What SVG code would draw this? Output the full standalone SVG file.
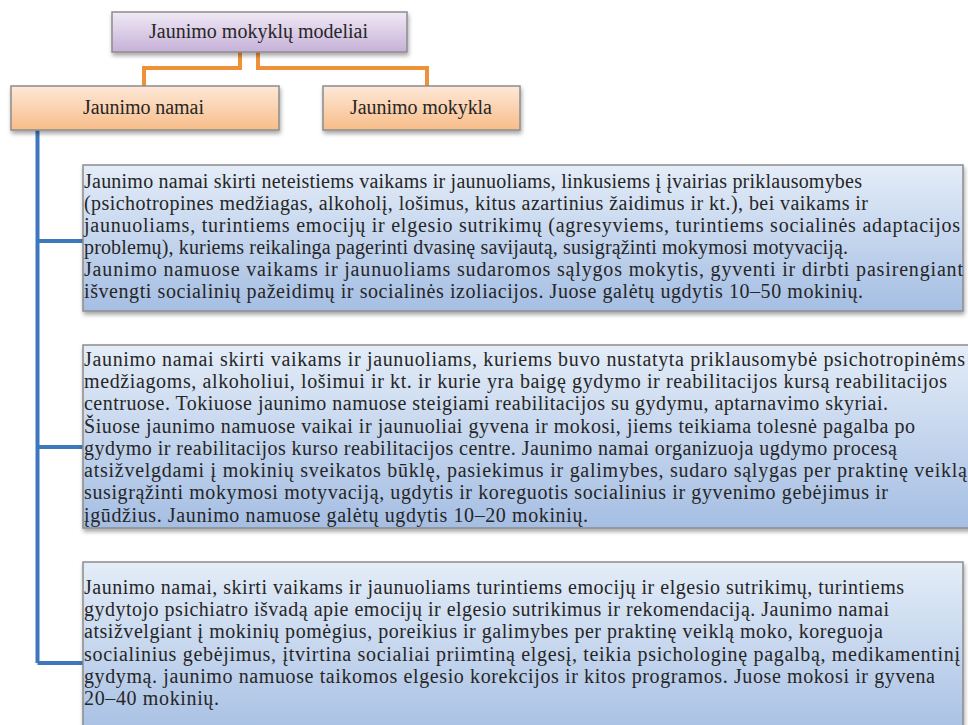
<svg xmlns="http://www.w3.org/2000/svg" width="968" height="725" viewBox="0 0 968 725">
<defs>
<linearGradient id="gPurple" x1="0" y1="0" x2="0" y2="1">
<stop offset="0" stop-color="#f0e9f5"/>
<stop offset="1" stop-color="#c6b1d8"/>
</linearGradient>
<linearGradient id="gOrange" x1="0" y1="0" x2="0" y2="1">
<stop offset="0" stop-color="#fde8d8"/>
<stop offset="1" stop-color="#f8bd89"/>
</linearGradient>
<linearGradient id="gBlue" x1="0" y1="0" x2="0" y2="1">
<stop offset="0" stop-color="#e4edf8"/>
<stop offset="1" stop-color="#a5bee3"/>
</linearGradient>
<filter id="sh" x="-5%" y="-10%" width="110%" height="130%">
<feDropShadow dx="1" dy="3" stdDeviation="2" flood-color="#000" flood-opacity="0.35"/>
</filter>
</defs>
<style>
.box{stroke:#8c8c8c;stroke-width:1.5;filter:url(#sh)}
.t{font-family:'Liberation Serif','Times New Roman',serif;font-size:20px;fill:#262626}
.c{text-anchor:middle}
.or{fill:none;stroke:#f0913a;stroke-width:4}
.bl{fill:none;stroke:#3d78bf;stroke-width:4}
</style>
<g id="connectors">
<path class="or" d="M240 52 V68 H144 V86"/>
<path class="or" d="M258 52 V68 H427 V86"/>
<path class="bl" d="M37.5 130 V663"/>
<path class="bl" d="M37.5 241 H83"/>
<path class="bl" d="M37.5 447 H83"/>
<path class="bl" d="M37.5 663 H83"/>
</g>
<g id="root">
<rect class="box" x="112" y="12" width="295" height="40" fill="url(#gPurple)"/>
<text class="t c" x="258.5" y="38" textLength="219" lengthAdjust="spacing">Jaunimo mokyklų modeliai</text>
</g>
<g id="namai">
<rect class="box" x="11" y="86" width="268" height="44" fill="url(#gOrange)"/>
<text class="t c" x="143.5" y="114" textLength="121" lengthAdjust="spacing">Jaunimo namai</text>
</g>
<g id="mokykla">
<rect class="box" x="323" y="86" width="197" height="44" fill="url(#gOrange)"/>
<text class="t c" x="421" y="114" textLength="142" lengthAdjust="spacing">Jaunimo mokykla</text>
</g>
<g id="desc1">
<rect class="box" x="83" y="165" width="880" height="146" fill="url(#gBlue)"/>
<text class="t" x="84" y="188.3" textLength="778" lengthAdjust="spacing">Jaunimo namai skirti neteistiems vaikams ir jaunuoliams, linkusiems į įvairias priklausomybes</text>
<text class="t" x="84" y="210.2" textLength="784" lengthAdjust="spacing">(psichotropines medžiagas, alkoholį, lošimus, kitus azartinius žaidimus ir kt.), bei vaikams ir</text>
<text class="t" x="84" y="232.1" textLength="876" lengthAdjust="spacing">jaunuoliams, turintiems emocijų ir elgesio sutrikimų (agresyviems, turintiems socialinės adaptacijos</text>
<text class="t" x="84" y="254" textLength="764" lengthAdjust="spacing">problemų), kuriems reikalinga pagerinti dvasinę savijautą, susigrąžinti mokymosi motyvaciją.</text>
<text class="t" x="84" y="275.9" textLength="879" lengthAdjust="spacing">Jaunimo namuose vaikams ir jaunuoliams sudaromos sąlygos mokytis, gyventi ir dirbti pasirengiant</text>
<text class="t" x="84" y="297.8" textLength="779" lengthAdjust="spacing">išvengti socialinių pažeidimų ir socialinės izoliacijos. Juose galėtų ugdytis 10–50 mokinių.</text>
</g>
<g id="desc2">
<rect class="box" x="83" y="345" width="890" height="183" fill="url(#gBlue)"/>
<text class="t" x="84" y="366" textLength="881" lengthAdjust="spacing">Jaunimo namai skirti vaikams ir jaunuoliams, kuriems buvo nustatyta priklausomybė psichotropinėms</text>
<text class="t" x="84" y="388.2" textLength="863" lengthAdjust="spacing">medžiagoms, alkoholiui, lošimui ir kt. ir kurie yra baigę gydymo ir reabilitacijos kursą reabilitacijos</text>
<text class="t" x="84" y="410.4" textLength="804" lengthAdjust="spacing">centruose. Tokiuose jaunimo namuose steigiami reabilitacijos su gydymu, aptarnavimo skyriai.</text>
<text class="t" x="84" y="432.6" textLength="831" lengthAdjust="spacing">Šiuose jaunimo namuose vaikai ir jaunuoliai gyvena ir mokosi, jiems teikiama tolesnė pagalba po</text>
<text class="t" x="84" y="454.8" textLength="813" lengthAdjust="spacing">gydymo ir reabilitacijos kurso reabilitacijos centre. Jaunimo namai organizuoja ugdymo procesą</text>
<text class="t" x="84" y="477" textLength="883" lengthAdjust="spacing">atsižvelgdami į mokinių sveikatos būklę, pasiekimus ir galimybes, sudaro sąlygas per praktinę veiklą</text>
<text class="t" x="84" y="499.2" textLength="804" lengthAdjust="spacing">susigrąžinti mokymosi motyvaciją, ugdytis ir koreguotis socialinius ir gyvenimo gebėjimus ir</text>
<text class="t" x="84" y="521.5" textLength="504" lengthAdjust="spacing">įgūdžius. Jaunimo namuose galėtų ugdytis 10–20 mokinių.</text>
</g>
<g id="desc3">
<rect class="box" x="83" y="562" width="880" height="180" fill="url(#gBlue)"/>
<text class="t" x="84" y="594" textLength="820" lengthAdjust="spacing">Jaunimo namai, skirti vaikams ir jaunuoliams turintiems emocijų ir elgesio sutrikimų, turintiems</text>
<text class="t" x="84" y="616.2" textLength="805" lengthAdjust="spacing">gydytojo psichiatro išvadą apie emocijų ir elgesio sutrikimus ir rekomendaciją. Jaunimo namai</text>
<text class="t" x="84" y="638.4" textLength="799" lengthAdjust="spacing">atsižvelgiant į mokinių pomėgius, poreikius ir galimybes per praktinę veiklą moko, koreguoja</text>
<text class="t" x="84" y="660.6" textLength="876" lengthAdjust="spacing">socialinius gebėjimus, įtvirtina socialiai priimtiną elgesį, teikia psichologinę pagalbą, medikamentinį</text>
<text class="t" x="84" y="682.8" textLength="851" lengthAdjust="spacing">gydymą. jaunimo namuose taikomos elgesio korekcijos ir kitos programos. Juose mokosi ir gyvena</text>
<text class="t" x="84" y="705" textLength="135" lengthAdjust="spacing">20–40 mokinių.</text>
</g>
</svg>
